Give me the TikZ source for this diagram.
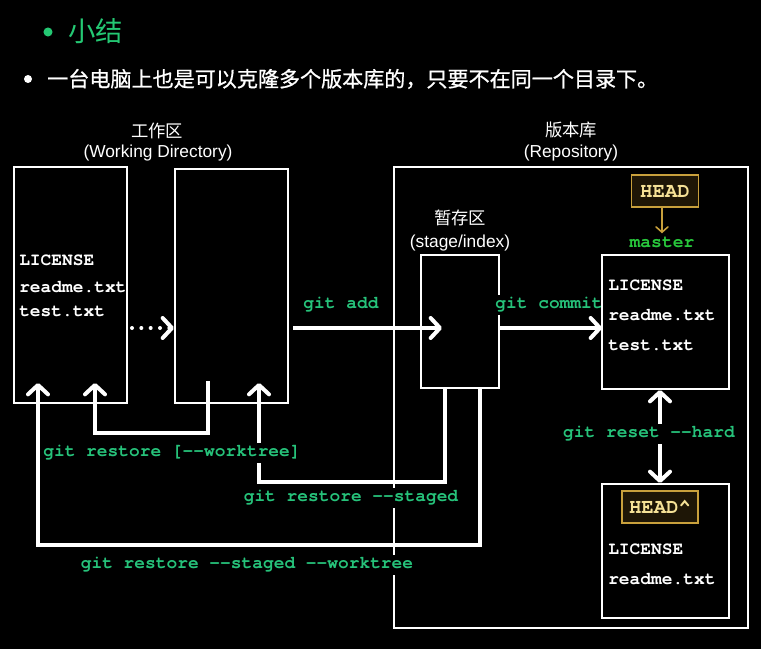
\documentclass[tikz,border=0pt]{standalone}
\usepackage{fontspec}
\setmainfont{Liberation Sans}
\newfontfamily\cjk{Noto Sans CJK SC}
\newfontfamily\cjkm{Noto Sans CJK SC}[FakeBold=0.8]
\newfontfamily\monofont{TeX Gyre Cursor}
\usetikzlibrary{arrows.meta,fit,calc}
\definecolor{cmdgreen}{RGB}{38,194,122}
\definecolor{titlegreen}{RGB}{36,200,115}
\definecolor{mastergreen}{RGB}{40,200,60}
\definecolor{goldline}{RGB}{200,160,60}
\definecolor{goldtext}{RGB}{245,225,150}
\definecolor{golddark}{RGB}{30,22,6}
\tikzset{
  box/.style={draw=white, line width=1.5pt, inner sep=0pt},
  conn/.style={draw=white, line width=3pt,
    -{Straight Barb[length=7pt,width=15pt,line cap=round,line join=round]}},
  bothconn/.style={draw=white, line width=3pt,
    {Straight Barb[length=7pt,width=15pt,line cap=round,line join=round]}-{Straight Barb[length=7pt,width=15pt,line cap=round,line join=round]}},
  cmd/.style={text=cmdgreen, fill=black, inner sep=1.5pt, font=\monofont\bfseries\fontsize{13.4}{16}\selectfont},
  file/.style={text=white, anchor=west, inner sep=0pt, font=\monofont\bfseries\fontsize{13.4}{16}\selectfont},
  zone/.style={text=white, inner sep=0pt, font=\fontsize{13}{15}\selectfont},
  zonecjk/.style={text=white, inner sep=0pt, font=\cjk\fontsize{13}{15}\selectfont},
  headbox/.style={draw=goldline, fill=golddark, line width=1pt, text=goldtext,
    font=\monofont\bfseries\fontsize{15.5}{18}\selectfont, minimum height=24pt, inner sep=0pt}
}
\begin{document}
\begin{tikzpicture}[x=0.75pt,y=-0.75pt]
\useasboundingbox (0,0) rectangle (761,649);
\fill[black] (0,0) rectangle (761,649);

% header
\fill[titlegreen] (48,32) circle[radius=3.4pt];
\node[anchor=west, text=titlegreen, inner sep=0pt, font=\cjk\fontsize{20.5}{24}\selectfont] (title) at (68,31) {小结};
\fill[white] (28,79) circle[radius=3pt];
\node[anchor=west, text=white, inner sep=0pt, font=\cjkm\fontsize{15.8}{19}\selectfont] (intro) at (47,79) {一台电脑上也是可以克隆多个版本库的，只要不在同一个目录下。};

% zone labels
\node[zonecjk] (wdcn) at (157,131) {工作区};
\node[zone] (wden) at (158,153) {(Working Directory)};
\node[zonecjk] (repocn) at (571,130) {版本库};
\node[zone] (repoen) at (571,153) {(Repository)};
\node[zonecjk] (stcn) at (460,218) {暂存区};
\node[zone] (sten) at (460,243) {(stage/index)};

% boxes
\node[box, fit={(14,167) (127,403)}] (wd1) {};
\node[box, fit={(175,169) (288,403)}] (wd2) {};
\node[box, fit={(394,167) (748,628)}] (repo) {};
\node[box, fit={(421,255) (499,388)}] (stage) {};

% files in working directory
\node[file] (f1) at (19,260) {LICENSE};
\node[file] (f2) at (19,287) {readme.txt};
\node[file] (f3) at (19,311) {test.txt};

% level coordinates
\coordinate (lvl) at (0,328);
\coordinate (addEnd) at (442,328);
\coordinate (stA) at (480,388);
\coordinate (stC) at (445,388);
\coordinate (wdA) at (38,383);
\coordinate (wdB) at (95,383);
\coordinate (wdC) at (259,383);
\coordinate (bStart) at (208,381);
\coordinate (rs) at (660,0);

% horizontal arrows
\draw[conn, dash pattern=on 0pt off 7pt, line cap=round, shorten <=3pt] (wd1.east |- lvl) -- (wd2.west |- lvl);
\draw[conn, shorten <=3pt] (wd2.east |- lvl) -- (addEnd);
\draw[conn] (stage.east |- lvl) -- ($(602,0 |- lvl)$);

% restore connectors
\draw[conn] (stA) -- ++(0,157) -| (wdA);
\draw[conn] (bStart) -- ++(0,52) -| (wdB);
\draw[conn] (stC) -- ++(0,94) -| (wdC);

% command labels
\node[cmd] (ladd) at (341,305) {git add};
\node[cmd] (lcommit) at (549,305) {git commit};
\node[cmd] (lwt) at (172,453) {git restore [-{}-worktree]};
\node[cmd] (lst) at (351,498) {git restore -{}-staged};
\node[cmd] (lstwt) at (247,565) {git restore -{}-staged -{}-worktree};

% commits
\node[box, fit={(602,255) (729,389)}] (c1) {};
\node[box, fit={(602,484) (729,618)}] (c2) {};
\node[file] (g1) at (608,285) {LICENSE};
\node[file] (g2) at (608,315) {readme.txt};
\node[file] (g3) at (608,345) {test.txt};
\node[file] (h1) at (608,549) {LICENSE};
\node[file] (h2) at (608,579) {readme.txt};

\node[headbox, minimum width=50pt] (head) at (665,191) {HEAD};
\node[text=mastergreen, inner sep=0pt, font=\monofont\bfseries\fontsize{13.5}{16}\selectfont] (master) at (662,242) {master};
\draw[draw=goldline, line width=1.2pt, -{Straight Barb[length=4pt,width=9pt,line cap=round]}] (head.south -| master) -- ($(master.north)+(0,-3)$);
\node[headbox, minimum width=57pt] (headp) at (660,507) {HEAD\^{}};

\draw[bothconn] (c1.south -| rs) -- (c2.north -| rs);
\node[cmd] (lreset) at (649,434) {git reset -{}-hard};
\end{tikzpicture}
\end{document}
